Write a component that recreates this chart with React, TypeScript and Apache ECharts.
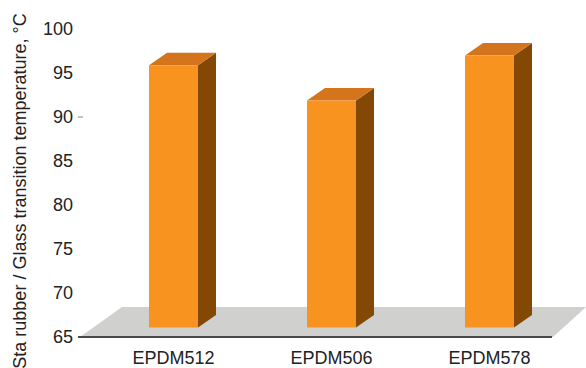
import React, { useEffect, useRef } from "react";
import * as echarts from "echarts";

const categories = ["EPDM512", "EPDM506", "EPDM578"];
const glassTransition = [94.8, 90.8, 95.9];
const tickMin = 65;
const tickMax = 100;
const tickStep = 5;
const axisTitle = "Sta rubber / Glass transition temperature, °C";

// Pseudo-3D column geometry, in pixels
const BAR_WIDTH = 49;
const DEPTH_X = 18;
const DEPTH_Y = 12.5;
const FRONT_LIFT = 9.5;

const FRONT = "#F7931E";
const TOP = "#D4751D";
const SIDE = "#844805";
const FLOOR = "#D0D0CE";
const AXIS = "#4A4A4A";
const TEXT = "#222222";
const LABEL_SIZE = 18;

function renderColumn(params: any, api: any) {
  const index = api.value(0);
  const topPoint = api.coord([index, api.value(1)]);
  const basePoint = api.coord([index, tickMin]);
  const x0 = topPoint[0] - BAR_WIDTH / 2;
  const x1 = x0 + BAR_WIDTH;
  const yTop = topPoint[1] - FRONT_LIFT;
  const yBase = basePoint[1] - FRONT_LIFT;
  return {
    type: "group",
    children: [
      {
        type: "polygon",
        shape: {
          points: [
            [x1, yTop],
            [x1 + DEPTH_X, yTop - DEPTH_Y],
            [x1 + DEPTH_X, yBase - DEPTH_Y],
            [x1, yBase],
          ],
        },
        style: { fill: SIDE },
      },
      {
        type: "polygon",
        shape: {
          points: [
            [x0, yTop],
            [x0 + DEPTH_X, yTop - DEPTH_Y],
            [x1 + DEPTH_X, yTop - DEPTH_Y],
            [x1, yTop],
          ],
        },
        style: { fill: TOP },
      },
      {
        type: "rect",
        shape: { x: x0, y: yTop, width: BAR_WIDTH, height: yBase - yTop },
        style: { fill: FRONT },
      },
    ],
  };
}

export default function App() {
  const ref = useRef<HTMLDivElement>(null);

  useEffect(() => {
    const chart = echarts.init(ref.current!, undefined, { renderer: "svg" });
    chart.setOption({
      animation: false,
      backgroundColor: "#FFFFFF",
      textStyle: { fontFamily: "Liberation Sans" },
      grid: { left: 94.5, top: 29, width: 474, height: 308 },
      xAxis: {
        type: "category",
        data: categories,
        axisLine: { show: false },
        axisTick: { show: false },
        axisLabel: { color: TEXT, fontSize: LABEL_SIZE, margin: 12 },
      },
      yAxis: {
        type: "value",
        min: tickMin,
        max: tickMax,
        interval: tickStep,
        offset: 16.5,
        splitLine: { show: false },
        axisLine: { show: false },
        axisTick: { show: false },
        axisLabel: { color: TEXT, fontSize: LABEL_SIZE, margin: 5 },
      },
      graphic: [
        {
          type: "polygon",
          z: 0,
          shape: {
            points: [
              [80, 337],
              [122, 307],
              [586, 307],
              [553, 337],
            ],
          },
          style: { fill: FLOOR },
        },
        {
          type: "line",
          z: 1,
          shape: { x1: 78, y1: 337, x2: 552, y2: 337 },
          style: { stroke: AXIS, lineWidth: 2 },
        },
        {
          type: "line",
          z: 1,
          shape: { x1: 78, y1: 117, x2: 83, y2: 117 },
          style: { stroke: "#888888", lineWidth: 1 },
        },
        {
          type: "text",
          z: 1,
          x: 20,
          y: 191,
          rotation: Math.PI / 2,
          style: {
            text: axisTitle,
            fill: TEXT,
            fontSize: LABEL_SIZE,
            fontFamily: "Liberation Sans",
            align: "center",
            verticalAlign: "middle",
          },
        },
      ],
      series: [
        {
          type: "custom",
          z: 5,
          renderItem: renderColumn,
          encode: { x: 0, y: 1 },
          data: categories.map((_, i) => [i, glassTransition[i]]),
        },
      ],
    });
    return () => chart.dispose();
  }, []);

  return <div ref={ref} style={{ position: "fixed", left: 0, top: 0, width: 586, height: 368 }} />;
}
